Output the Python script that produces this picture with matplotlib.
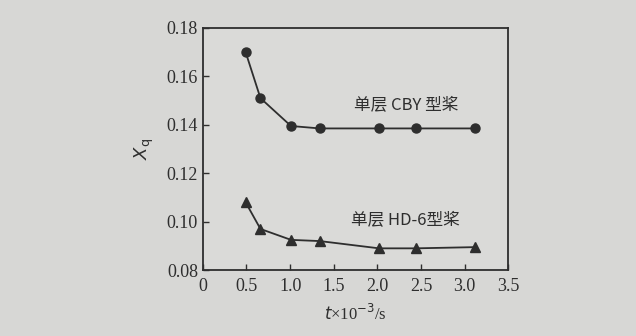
import matplotlib
matplotlib.use('Agg')
from matplotlib import pyplot as plt

# data
t_cby = [0.49, 0.66, 1.01, 1.34, 2.02, 2.44, 3.12]
xq_cby = [0.170, 0.151, 0.1395, 0.1385, 0.1385, 0.1385, 0.1385]
t_hd6 = [0.49, 0.66, 1.01, 1.34, 2.02, 2.44, 3.12]
xq_hd6 = [0.108, 0.097, 0.0925, 0.092, 0.089, 0.089, 0.0895]
x_ticks = [0, 0.5, 1.0, 1.5, 2.0, 2.5, 3.0, 3.5]
x_tick_labels = ['0', '0.5', '1.0', '1.5', '2.0', '2.5', '3.0', '3.5']
y_ticks = [0.08, 0.10, 0.12, 0.14, 0.16, 0.18]
y_tick_labels = ['0.08', '0.10', '0.12', '0.14', '0.16', '0.18']

serif = ['Liberation Serif', 'DejaVu Serif']
cjk = ['Noto Sans CJK SC', 'Liberation Serif']
bg = '#d7d7d5'
ink = '#2e2e2e'

fig = plt.figure(figsize=(6.36, 3.36), dpi=100, facecolor=bg)
ax = fig.add_axes([0.319, 0.196, 0.48, 0.721], facecolor='#dadad8')

ax.plot(t_cby, xq_cby, color=ink, lw=1.3, marker='o', ms=6.5)
ax.plot(t_hd6, xq_hd6, color=ink, lw=1.3, marker='^', ms=6.5)

ax.set_xlim(0, 3.5)
ax.set_ylim(0.08, 0.18)
ax.set_xticks(x_ticks)
ax.set_xticklabels(x_tick_labels, family=serif, fontsize=13, color=ink)
ax.set_yticks(y_ticks)
ax.set_yticklabels(y_tick_labels, family=serif, fontsize=13, color=ink)
ax.tick_params(direction='in', length=4, color=ink, width=1)
ax.tick_params(axis='x', pad=6)
for s in ax.spines.values():
    s.set_color(ink)
    s.set_linewidth(1.3)

ax.text(2.33, 0.148, '单层 CBY 型桨', family=cjk, fontsize=12, color=ink, ha='center', va='center')
ax.text(2.32, 0.1005, '单层 HD-6型桨', family=cjk, fontsize=12, color=ink, ha='center', va='center')

ax.set_ylabel(r'$X_\mathrm{q}$', fontsize=13, color=ink, labelpad=8)
ax.set_xlabel(r'$t$×10$^{-3}$/s', family=serif, fontsize=12, color=ink, labelpad=6)

fig.savefig('out.png', dpi=100, facecolor=bg)
